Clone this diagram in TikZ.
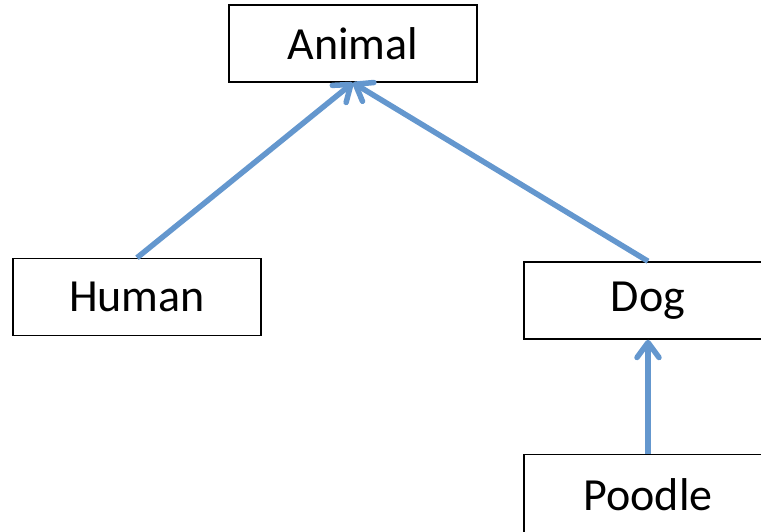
\documentclass[tikz,border=0pt]{standalone}
\usepackage{fontspec}
\setmainfont{Carlito}
\usetikzlibrary{arrows.meta}
\definecolor{linkblue}{RGB}{100,151,206}
\begin{document}
\begin{tikzpicture}[x=1pt,y=1pt,
  classbox/.style={draw=black, line width=1.5pt, fill=white, minimum width=248pt,
    minimum height=77pt, inner sep=0pt, font=\fontsize{46}{50}\selectfont},
  inherits/.style={draw=linkblue, line width=5.5pt,
    -{Straight Barb[length=15pt,width=22pt,line cap=round,line join=round]}}]
  \useasboundingbox (0,0) rectangle (761,531);
  \node[classbox] (animal) at (353,487.5) {Animal};
  \node[classbox] (human)  at (137,234)   {Human};
  \node[classbox] (dog)    at (648,230.5) {Dog};
  \node[classbox, minimum height=81pt] (poodle) at (648,36) {Poodle};
  \draw[inherits] (human.north)  -- (animal.south);
  \draw[inherits] (dog.north)    -- (animal.south);
  \draw[inherits] (poodle.north) -- (dog.south);
\end{tikzpicture}
\end{document}
